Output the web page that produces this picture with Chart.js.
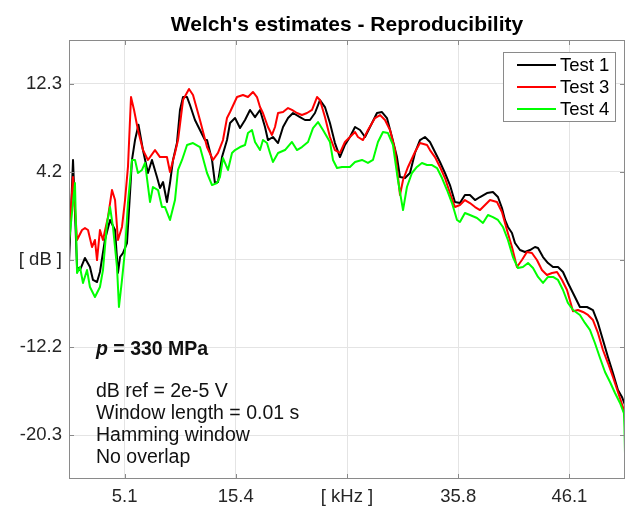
<!DOCTYPE html>
<html>
<head>
<meta charset="utf-8">
<title>Welch's estimates - Reproducibility</title>
<script src="https://cdn.jsdelivr.net/npm/chart.js@4.4.0/dist/chart.umd.min.js"></script>
<style>
  html, body { margin: 0; padding: 0; background: #fff; }
  #wrap { width: 630px; height: 507px; position: relative; }
</style>
</head>
<body>
<div id="wrap"><canvas id="welchChart"></canvas></div>
<script>
// PSD estimates: frequency [kHz] and level [dB] for each test
const freqTest1 = [0, 0.37, 0.74, 1.01, 1.47, 1.93, 2.21, 2.58, 2.85, 3.31, 3.78, 4.24, 4.51, 4.70, 4.97, 5.34, 5.62, 5.80, 6.08, 6.40, 6.81, 7.27, 7.64, 8.10, 8.38, 8.66, 9.02, 9.30, 9.58, 9.94, 10.22, 10.50, 10.87, 11.14, 11.60, 12.06, 12.52, 12.71, 13.17, 13.44, 13.72, 14.09, 14.55, 14.83, 15.29, 15.75, 16.21, 16.67, 17.13, 17.59, 18.05, 18.32, 18.78, 19.25, 19.71, 20.17, 20.63, 21.27, 21.73, 22.19, 22.65, 23.11, 23.57, 24.03, 24.49, 24.95, 25.41, 25.87, 26.34, 26.80, 27.26, 27.72, 28.36, 28.82, 29.28, 29.74, 30.20, 30.48, 30.94, 31.40, 31.86, 32.32, 32.78, 33.24, 33.70, 34.16, 34.62, 35.08, 35.54, 36.00, 36.46, 36.92, 37.39, 37.85, 38.49, 39.04, 39.50, 39.87, 40.15, 40.42, 40.79, 41.07, 41.53, 41.99, 42.45, 42.91, 43.19, 43.65, 44.11, 44.57, 45.03, 45.49, 45.95, 46.41, 47.05, 47.70, 48.25, 48.71, 49.17, 49.63, 50.09, 50.55, 50.92, 51.20];
const dbTest1 = [-4.33, 5.24, -4.70, -4.98, -3.86, -4.70, -5.90, -6.09, -5.16, -2.19, -0.33, -1.26, -5.25, -3.77, -3.40, -2.47, 2.17, 5.24, 7.09, 8.50, 6.16, 4.03, 5.24, 3.66, 2.64, 3.19, 1.34, 3.10, 5.24, 6.81, 9.88, 11.08, 11.08, 10.34, 8.95, 8.02, 7.09, 7.09, 5.24, 3.10, 3.19, 5.51, 7.09, 8.67, 9.13, 8.20, 8.95, 9.88, 9.22, 9.88, 8.30, 7.09, 7.37, 6.81, 8.30, 9.13, 9.60, 9.22, 8.95, 8.95, 9.60, 10.80, 10.15, 8.67, 6.81, 5.51, 6.63, 7.37, 8.30, 8.02, 7.37, 8.30, 9.60, 9.69, 9.13, 7.37, 5.51, 3.66, 3.56, 4.03, 5.89, 7.09, 7.37, 6.91, 5.98, 5.05, 4.03, 2.91, 1.34, 1.24, 1.99, 1.99, 1.52, 1.80, 2.17, 2.26, 1.80, 0.78, -0.33, -0.98, -1.54, -2.47, -3.12, -3.30, -3.12, -2.84, -2.93, -3.77, -4.33, -4.70, -4.70, -5.16, -6.18, -7.11, -8.41, -8.41, -8.69, -9.89, -11.47, -13.05, -14.54, -16.11, -16.76, -17.50];

const freqTest3 = [0, 0.37, 0.74, 1.20, 1.47, 1.75, 2.12, 2.39, 2.58, 2.85, 3.13, 3.59, 3.96, 4.24, 4.51, 4.88, 5.16, 5.43, 5.71, 5.99, 6.35, 6.81, 7.27, 7.92, 8.38, 9.02, 9.30, 9.76, 10.04, 10.50, 11.05, 11.42, 12.06, 12.71, 13.26, 13.72, 14.18, 14.55, 14.83, 15.47, 16.02, 16.48, 16.94, 17.31, 17.59, 17.86, 18.32, 18.69, 18.97, 19.25, 19.71, 20.17, 20.53, 20.99, 21.45, 21.92, 22.38, 22.84, 23.11, 23.57, 24.03, 24.49, 24.95, 25.41, 25.87, 26.34, 26.61, 27.07, 27.53, 28.18, 28.64, 29.10, 29.56, 30.02, 30.48, 30.76, 31.22, 31.86, 32.32, 32.97, 33.24, 33.70, 34.16, 34.62, 35.08, 35.54, 36.00, 36.46, 36.92, 37.39, 37.85, 38.31, 38.77, 39.41, 39.87, 40.33, 40.79, 41.25, 41.71, 42.17, 42.63, 43.09, 43.55, 44.01, 44.48, 44.94, 45.40, 45.86, 46.41, 46.87, 47.33, 47.79, 48.25, 48.71, 49.17, 49.63, 50.09, 50.55, 51.01, 51.20];
const dbTest3 = [-2.19, 3.66, -2.19, -1.26, -1.08, -1.26, -2.84, -2.19, -4.05, -1.26, -2.19, -0.06, 2.45, 1.52, -2.19, -0.98, 1.52, 4.59, 11.08, 9.88, 8.02, 6.16, 5.24, 6.16, 5.51, 5.51, 4.12, 5.89, 7.09, 10.80, 11.83, 11.27, 8.95, 6.44, 5.24, 5.89, 7.09, 9.13, 9.69, 11.08, 11.27, 11.08, 11.55, 11.08, 10.15, 9.60, 8.30, 7.56, 8.30, 9.60, 9.69, 10.06, 9.88, 9.60, 9.41, 9.60, 9.88, 11.08, 10.80, 9.22, 7.37, 6.16, 5.89, 6.91, 7.37, 7.83, 7.37, 7.09, 8.02, 9.13, 9.41, 8.95, 8.02, 6.16, 1.99, 3.38, 4.59, 5.98, 6.81, 6.63, 6.16, 5.51, 4.59, 3.56, 2.17, 0.87, 1.06, 1.52, 1.24, 0.87, 0.59, 1.06, 1.52, 1.34, 0.41, -1.26, -2.84, -4.70, -4.05, -3.30, -3.40, -4.05, -4.98, -5.44, -5.25, -5.16, -5.90, -6.83, -8.80, -8.69, -8.87, -9.15, -9.62, -10.82, -12.40, -13.61, -14.91, -16.30, -17.69, -18.62];

const freqTest4 = [0, 0.55, 0.74, 1.01, 1.29, 1.66, 1.93, 2.39, 2.85, 3.13, 3.50, 3.78, 4.05, 4.42, 4.60, 4.88, 5.16, 5.43, 5.80, 6.08, 6.35, 6.72, 7.00, 7.46, 7.73, 8.20, 8.56, 8.84, 9.30, 9.76, 10.04, 10.41, 10.87, 11.42, 12.06, 12.71, 13.17, 13.63, 13.90, 14.18, 14.64, 15.01, 15.29, 15.75, 16.21, 16.48, 16.85, 17.13, 17.59, 17.86, 18.23, 18.51, 18.78, 19.25, 19.89, 20.53, 20.99, 21.45, 22.01, 22.47, 22.93, 23.39, 24.03, 24.31, 24.68, 25.14, 25.87, 26.34, 26.98, 27.53, 27.99, 28.45, 28.91, 29.37, 29.83, 30.29, 30.76, 31.12, 31.58, 32.04, 32.50, 32.97, 33.43, 33.89, 34.35, 34.81, 35.27, 35.73, 36.00, 36.46, 36.92, 37.57, 38.12, 38.58, 39.04, 39.50, 39.96, 40.42, 40.88, 41.34, 41.80, 42.27, 42.73, 43.19, 43.65, 44.11, 44.57, 45.03, 45.49, 45.95, 46.41, 47.05, 47.51, 47.97, 48.43, 48.90, 49.36, 49.82, 50.28, 50.74, 51.10, 51.15, 51.20];
const dbTest4 = [-2.47, 3.10, -5.25, -4.70, -6.18, -4.98, -6.55, -7.48, -6.55, -4.98, -0.61, 0.87, -0.98, -4.70, -8.41, -5.90, -3.12, 1.24, 5.24, 5.24, 4.03, 4.31, 4.96, 1.34, 2.73, 2.45, 0.87, 0.87, -0.33, 1.52, 4.31, 5.24, 6.63, 6.81, 6.44, 4.03, 2.91, 3.10, 3.66, 5.42, 4.31, 5.89, 6.16, 6.44, 6.63, 7.74, 8.02, 6.91, 6.16, 7.09, 6.81, 5.89, 5.05, 5.89, 6.16, 6.91, 6.16, 6.44, 6.91, 8.20, 8.76, 8.02, 6.91, 5.24, 4.49, 4.59, 4.59, 5.05, 5.24, 4.96, 5.24, 6.91, 7.83, 7.74, 6.63, 3.38, 0.59, 2.73, 4.03, 4.59, 4.96, 4.77, 4.77, 4.49, 3.56, 2.45, 1.24, -0.33, -0.52, 0.32, 0.13, -0.15, -0.61, 0.13, -0.06, -0.33, -0.98, -2.19, -3.77, -4.79, -4.70, -4.33, -4.79, -5.62, -6.18, -5.62, -5.62, -5.90, -6.83, -8.04, -8.69, -9.15, -9.89, -10.54, -11.75, -13.14, -14.44, -15.37, -16.39, -17.32, -18.25, -19.55, -21.96];

const seriesNames = ['Test 1', 'Test 3', 'Test 4'];
const seriesColors = ['#000000', '#ff0000', '#00ff00'];

// axis limits and tick marks (middle tick carries the unit)
const xRange = [0, 51.2];
const xTicks = [5.12, 15.36, 25.6, 35.84, 46.08];
const xTickLabels = ['5.1', '15.4', '[ kHz ]', '35.8', '46.1'];
const yRange = [-24.375, 16.375];
const yTicks = [-20.3, -12.15, -4.0, 4.15, 12.3];
const yTickLabels = ['-20.3', '-12.2', '[ dB ]', '4.2', '12.3'];

const chartTitle = "Welch's estimates - Reproducibility";
const pressureNote = ' = 330 MPa';
const noteLines = ['dB ref = 2e-5 V', 'Window length = 0.01 s', 'Hamming window', 'No overlap'];

const FONT = '"Liberation Sans", Arial, Helvetica, sans-serif';
const AXIS_COLOR = '#8a8a8a';
const GRID_COLOR = '#e4e4e4';
const TEXT_COLOR = '#262626';

function toPoints(xs, ys) {
    const n = Math.min(xs.length, ys.length);
    const pts = [];
    for (let i = 0; i < n; i++) pts.push({ x: xs[i], y: ys[i] });
    return pts;
}

const seriesData = [
    toPoints(freqTest1, dbTest1),
    toPoints(freqTest3, dbTest3),
    toPoints(freqTest4, dbTest4)
];

// box, inward ticks, title, legend and notes drawn on top of the plot
const matlabFrame = {
    id: 'matlabFrame',
    afterDraw(chart) {
        const { ctx, chartArea: a, scales } = chart;
        ctx.save();

        ctx.strokeStyle = AXIS_COLOR;
        ctx.lineWidth = 1;
        ctx.strokeRect(a.left + 0.5, a.top + 0.5, a.right - a.left - 1, a.bottom - a.top - 1);

        const tl = 5;
        ctx.beginPath();
        xTicks.forEach(v => {
            const px = Math.round(scales.x.getPixelForValue(v)) + 0.5;
            ctx.moveTo(px, a.bottom); ctx.lineTo(px, a.bottom - tl);
            ctx.moveTo(px, a.top); ctx.lineTo(px, a.top + tl);
        });
        yTicks.forEach(v => {
            const py = Math.round(scales.y.getPixelForValue(v)) + 0.5;
            ctx.moveTo(a.left, py); ctx.lineTo(a.left + tl, py);
            ctx.moveTo(a.right, py); ctx.lineTo(a.right - tl, py);
        });
        ctx.stroke();

        // title
        ctx.fillStyle = '#000';
        ctx.font = 'bold 21px ' + FONT;
        ctx.textAlign = 'center';
        ctx.textBaseline = 'alphabetic';
        ctx.fillText(chartTitle, (a.left + a.right) / 2, 31);

        // legend
        const lg = { left: 503, top: 52, right: 615, bottom: 121 };
        ctx.fillStyle = '#fff';
        ctx.fillRect(lg.left, lg.top, lg.right - lg.left, lg.bottom - lg.top);
        ctx.strokeStyle = AXIS_COLOR;
        ctx.strokeRect(lg.left + 0.5, lg.top + 0.5, lg.right - lg.left, lg.bottom - lg.top);
        ctx.font = '18.5px ' + FONT;
        ctx.textAlign = 'left';
        ctx.textBaseline = 'middle';
        seriesNames.forEach((name, i) => {
            const y = 65 + i * 22;
            ctx.strokeStyle = seriesColors[i];
            ctx.lineWidth = 2;
            ctx.beginPath();
            ctx.moveTo(517, y); ctx.lineTo(556, y);
            ctx.stroke();
            ctx.fillStyle = '#000';
            ctx.fillText(name, 560, y + 1);
        });

        // measurement notes
        ctx.textBaseline = 'alphabetic';
        ctx.fillStyle = '#111';
        ctx.font = 'italic bold 19.5px ' + FONT;
        ctx.fillText('p', 96, 355);
        const pw = ctx.measureText('p').width;
        ctx.font = 'bold 19.5px ' + FONT;
        ctx.fillText(pressureNote, 96 + pw, 355);
        ctx.font = '19.5px ' + FONT;
        noteLines.forEach((line, i) => ctx.fillText(line, 96, 397 + i * 22));

        ctx.restore();
    }
};

const ctx = document.getElementById('welchChart').getContext('2d');
new Chart(ctx, {
    type: 'line',
    data: {
        datasets: seriesNames.map((name, i) => ({
            label: name,
            data: seriesData[i],
            borderColor: seriesColors[i],
            borderWidth: 2,
            borderJoinStyle: 'round',
            borderCapStyle: 'round',
            pointRadius: 0,
            tension: 0,
            fill: false,
            order: seriesNames.length - i
        }))
    },
    options: {
        responsive: true,
        maintainAspectRatio: false,
        animation: false,
        events: [],
        layout: { padding: { top: 40, right: 5, left: 0, bottom: 0 } },
        plugins: {
            legend: { display: false },
            tooltip: { enabled: false },
            title: { display: false }
        },
        scales: {
            x: {
                type: 'linear',
                min: xRange[0],
                max: xRange[1],
                afterBuildTicks: scale => { scale.ticks = xTicks.map(v => ({ value: v })); },
                afterFit: scale => { scale.height = 28; },
                grid: { color: GRID_COLOR, drawTicks: false },
                border: { display: false },
                ticks: {
                    autoSkip: false,
                    maxRotation: 0,
                    padding: 7,
                    color: TEXT_COLOR,
                    font: { family: FONT, size: 18.5 },
                    callback: (v, i) => xTickLabels[i]
                }
            },
            y: {
                type: 'linear',
                min: yRange[0],
                max: yRange[1],
                afterBuildTicks: scale => { scale.ticks = yTicks.map(v => ({ value: v })); },
                afterFit: scale => { scale.width = 69; },
                grid: { color: GRID_COLOR, drawTicks: false },
                border: { display: false },
                ticks: {
                    autoSkip: false,
                    padding: 7,
                    color: TEXT_COLOR,
                    font: { family: FONT, size: 18.5 },
                    callback: (v, i) => yTickLabels[i]
                }
            }
        }
    },
    plugins: [matlabFrame]
});
</script>
</body>
</html>
